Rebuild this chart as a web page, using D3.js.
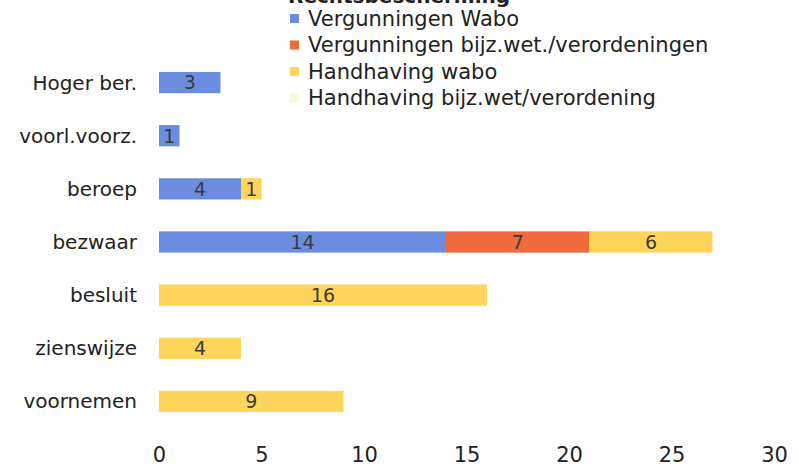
<!DOCTYPE html>
<html><head><meta charset="utf-8">
<script src="https://cdn.jsdelivr.net/npm/d3@7"></script>
<style>body{margin:0;background:#fff}svg{display:block}</style>
</head><body><svg id="c" width="799" height="470"></svg>
<script>
const categories = ["Hoger ber.","voorl.voorz.","beroep","bezwaar","besluit","zienswijze","voornemen"];
const seriesNames = ["Vergunningen Wabo","Vergunningen bijz.wet./verordeningen","Handhaving wabo","Handhaving bijz.wet/verordening"];
const vergWabo   = [3,1,4,14,0,0,0];
const vergBijz   = [0,0,0,7,0,0,0];
const handWabo   = [0,0,1,6,16,4,9];
const handBijz   = [0,0,0,0,0,0,0];
const xTicks = [0,5,10,15,20,25,30];
const legendTitle = "Rechtsbescherming";
const colors = ["#6b8de0","#f06a3c","#ffd45a","#f8f8d8"];

const svg = d3.select("#c");
const font = "'DejaVu Sans', Verdana, sans-serif";
const x = d3.scaleLinear().domain([0,30]).range([159,774]);
const y = d3.scaleBand().domain(categories).range([56,428]).paddingInner(0.6).paddingOuter(0.3);

const rows = categories.map((c,i)=>({cat:c, vals:[vergWabo[i],vergBijz[i],handWabo[i],handBijz[i]]}));
const stackData = rows.map(r=>{const o={cat:r.cat}; seriesNames.forEach((s,j)=>o[s]=r.vals[j]); return o;});
const stacked = d3.stack().keys(seriesNames)(stackData);

const g = svg.append("g");
stacked.forEach((layer,j)=>{
  layer.forEach(d=>{
    const v = d[1]-d[0];
    if(v<=0) return;
    g.append("rect").attr("x",x(d[0])).attr("y",y(d.data.cat)).attr("width",x(d[1])-x(d[0])).attr("height",y.bandwidth()).attr("fill",colors[j]);
    g.append("text").attr("x",(x(d[0])+x(d[1]))/2).attr("y",y(d.data.cat)+y.bandwidth()/2).attr("dy","0.36em")
      .attr("text-anchor","middle").attr("font-family",font).attr("font-size",19).attr("fill","#3a3a3a").text(v);
  });
});

// category axis
const yAxis = svg.append("g").attr("transform","translate(137,0)").call(d3.axisLeft(y).tickSize(0).tickPadding(0));
yAxis.select(".domain").remove();
yAxis.selectAll("text").attr("font-family",font).attr("font-size",20).attr("fill","#222").attr("dy","0.35em");

// x axis
const xAxis = svg.append("g").attr("transform","translate(0,447)").call(d3.axisBottom(x).tickValues(xTicks).tickSize(0).tickPadding(0));
xAxis.select(".domain").remove();
xAxis.selectAll("text").attr("font-family",font).attr("font-size",21).attr("fill","#222").attr("dy","0.71em");

// legend
const lg = svg.append("g");
lg.append("text").attr("x",288).attr("y",3).attr("font-family",font).attr("font-size",20).attr("font-weight","bold").attr("fill","#222").text(legendTitle);
seriesNames.forEach((s,j)=>{
  const cy = 18 + j*26.5;
  lg.append("rect").attr("x",290).attr("y",cy-4).attr("width",9).attr("height",9).attr("fill",colors[j]);
  lg.append("text").attr("x",308).attr("y",cy).attr("dy","0.37em").attr("font-family",font).attr("font-size",21).attr("fill","#222").text(s);
});
</script></body></html>
